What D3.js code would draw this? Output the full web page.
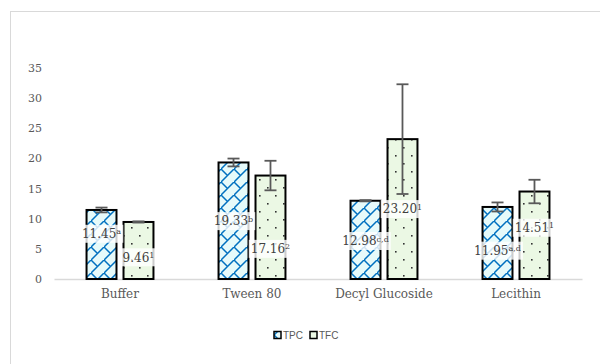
<!DOCTYPE html>
<html>
<head>
<meta charset="utf-8">
<script src="https://cdn.jsdelivr.net/npm/d3@7"></script>
<style>
  body { margin: 0; background: #fff; }
  svg { display: block; }
</style>
</head>
<body>
<div class="container"></div>
<script>
// data
const categories = ["Buffer", "Tween 80", "Decyl Glucoside", "Lecithin"]
const seriesNames = ["TPC", "TFC"]
const tpc = [11.45, 19.33, 12.98, 11.95]
const tfc = [9.46, 17.16, 23.20, 14.51]
const tpcErr = [0.4, 0.65, 0.1, 0.75]
const tfcErr = [0.1, 2.45, 9.1, 1.95]
const tpcSup = ["a", "b", "c,d", "a,d"]
const tfcSup = ["1", "2", "1", "1"]
// where the data labels were dragged to (in value units)
const tpcLabelAt = [7.5, 9.6, 6.3, 4.7]
const tfcLabelAt = [3.6, 5.0, 11.6, 8.5]
const yTicks = [0, 5, 10, 15, 20, 25, 30, 35]

const w = 600
const h = 364
const serif = "'DejaVu Serif', serif"

const svg = d3.select(".container")
  .append("svg")
  .attr("width", w)
  .attr("height", h)

// patterns
const defs = svg.append("defs")
const brick = defs.append("pattern")
  .attr("id", "brick")
  .attr("patternUnits", "userSpaceOnUse")
  .attr("width", 13)
  .attr("height", 13)
brick.append("rect").attr("width", 13).attr("height", 13).attr("fill", "#e6fafa")
brick.append("path")
  .attr("d", "M-1,14 L14,-1 M0,0 L6.5,6.5")
  .attr("stroke", "#0070c0")
  .attr("stroke-width", 1.5)
  .attr("fill", "none")

const dots = defs.append("pattern")
  .attr("id", "dots")
  .attr("patternUnits", "userSpaceOnUse")
  .attr("width", 16)
  .attr("height", 16)
dots.append("rect").attr("width", 16).attr("height", 16).attr("fill", "#ebf8e4")
dots.append("rect").attr("x", 3).attr("y", 3).attr("width", 1.6).attr("height", 1.6).attr("fill", "#333")
dots.append("rect").attr("x", 11).attr("y", 11).attr("width", 1.6).attr("height", 1.6).attr("fill", "#333")

// chart border
svg.append("rect")
  .attr("x", 10.5).attr("y", 11.5)
  .attr("width", 700).attr("height", 500)
  .attr("fill", "none")
  .attr("stroke", "#d9d9d9")

//Scales
const xScale = d3.scaleBand()
  .domain(categories)
  .range([54, 582])
  .padding(0)

const xSub = d3.scaleBand()
  .domain(seriesNames)
  .range([0, xScale.bandwidth()])
  .paddingInner(0.19)
  .paddingOuter(0.88)

const yScale = d3.scaleLinear()
  .domain([0, 35])
  .range([279, 68])

// y tick labels (no axis line)
const yAxis = d3.axisLeft(yScale).tickValues(yTicks).tickSize(0).tickPadding(0)
const yg = svg.append("g")
  .attr("transform", "translate(42,0)")
  .call(yAxis)
yg.select(".domain").remove()
yg.selectAll("text")
  .style("font-family", serif)
  .style("font-size", "11px")
  .attr("fill", "#595959")

// x axis
const xAxis = d3.axisBottom(xScale).tickSize(0).tickPadding(10)
const xg = svg.append("g")
  .attr("transform", "translate(0,279)")
  .call(xAxis)
xg.select(".domain").attr("stroke", "#d9d9d9").attr("stroke-width", 1.5)
xg.selectAll("text")
  .style("font-family", serif)
  .style("font-size", "12px")
  .attr("fill", "#595959")

const series = [
  { name: "TPC", vals: tpc, err: tpcErr, sup: tpcSup, at: tpcLabelAt, fill: "url(#brick)" },
  { name: "TFC", vals: tfc, err: tfcErr, sup: tfcSup, at: tfcLabelAt, fill: "url(#dots)" }
]

const rows = []
series.forEach(s => {
  categories.forEach((c, i) => {
    rows.push({ cat: c, s: s.name, v: s.vals[i], e: s.err[i], sup: s.sup[i], at: s.at[i], fill: s.fill })
  })
})

const bx = d => xScale(d.cat) + xSub(d.s)
const bw = xSub.bandwidth()

svg.selectAll("rect.bar")
  .data(rows)
  .enter()
  .append("rect")
  .attr("class", "bar")
  .attr("x", bx)
  .attr("y", d => yScale(d.v))
  .attr("width", bw)
  .attr("height", d => yScale(0) - yScale(d.v))
  .attr("fill", d => d.fill)
  .attr("stroke", "#000")
  .attr("stroke-width", 2)

// error bars
const eb = svg.selectAll("g.err")
  .data(rows)
  .enter()
  .append("g")
  .attr("class", "err")
  .attr("stroke", "#595959")
  .attr("stroke-width", 1.8)
eb.append("line")
  .attr("x1", d => bx(d) + bw / 2).attr("x2", d => bx(d) + bw / 2)
  .attr("y1", d => yScale(d.v + d.e)).attr("y2", d => yScale(d.v - d.e))
eb.append("line")
  .attr("x1", d => bx(d) + bw / 2 - 6).attr("x2", d => bx(d) + bw / 2 + 6)
  .attr("y1", d => yScale(d.v + d.e)).attr("y2", d => yScale(d.v + d.e))
eb.append("line")
  .attr("x1", d => bx(d) + bw / 2 - 6).attr("x2", d => bx(d) + bw / 2 + 6)
  .attr("y1", d => yScale(d.v - d.e)).attr("y2", d => yScale(d.v - d.e))

// data labels
const lab = svg.selectAll("g.lab")
  .data(rows)
  .enter()
  .append("g")
  .attr("class", "lab")
  .attr("transform", d => "translate(" + (bx(d) + bw / 2) + "," + yScale(d.at) + ")")

lab.append("rect")
  .attr("fill", "#fff")
  .attr("fill-opacity", 0.8)

const txt = lab.append("text")
  .attr("text-anchor", "middle")
  .attr("dy", "0.35em")
  .style("font-family", serif)
  .style("font-size", "12px")
  .attr("fill", "#404040")
txt.append("tspan").text(d => d.v.toFixed(2))
txt.append("tspan")
  .attr("dy", "-0.45em")
  .style("font-size", "8px")
  .text(d => d.sup)

txt.each(function () {
  const b = this.getBBox()
  d3.select(this.parentNode).select("rect")
    .attr("x", b.x - 2).attr("y", -9)
    .attr("width", b.width + 4).attr("height", 18)
})

// legend
const legend = svg.append("g").attr("transform", "translate(274,335)")
series.forEach((s, i) => {
  const g = legend.append("g").attr("transform", "translate(" + (i * 36) + ",0)")
  g.append("rect")
    .attr("x", 0).attr("y", -3.5)
    .attr("width", 7).attr("height", 7)
    .attr("fill", s.fill)
    .attr("stroke", "#000")
    .attr("stroke-width", 1.5)
  g.append("text")
    .attr("x", 9).attr("y", 0)
    .attr("dy", "0.35em")
    .style("font-family", "'Liberation Sans', sans-serif")
    .style("font-size", "10px")
    .attr("fill", "#595959")
    .text(s.name)
})
</script>
</body>
</html>
